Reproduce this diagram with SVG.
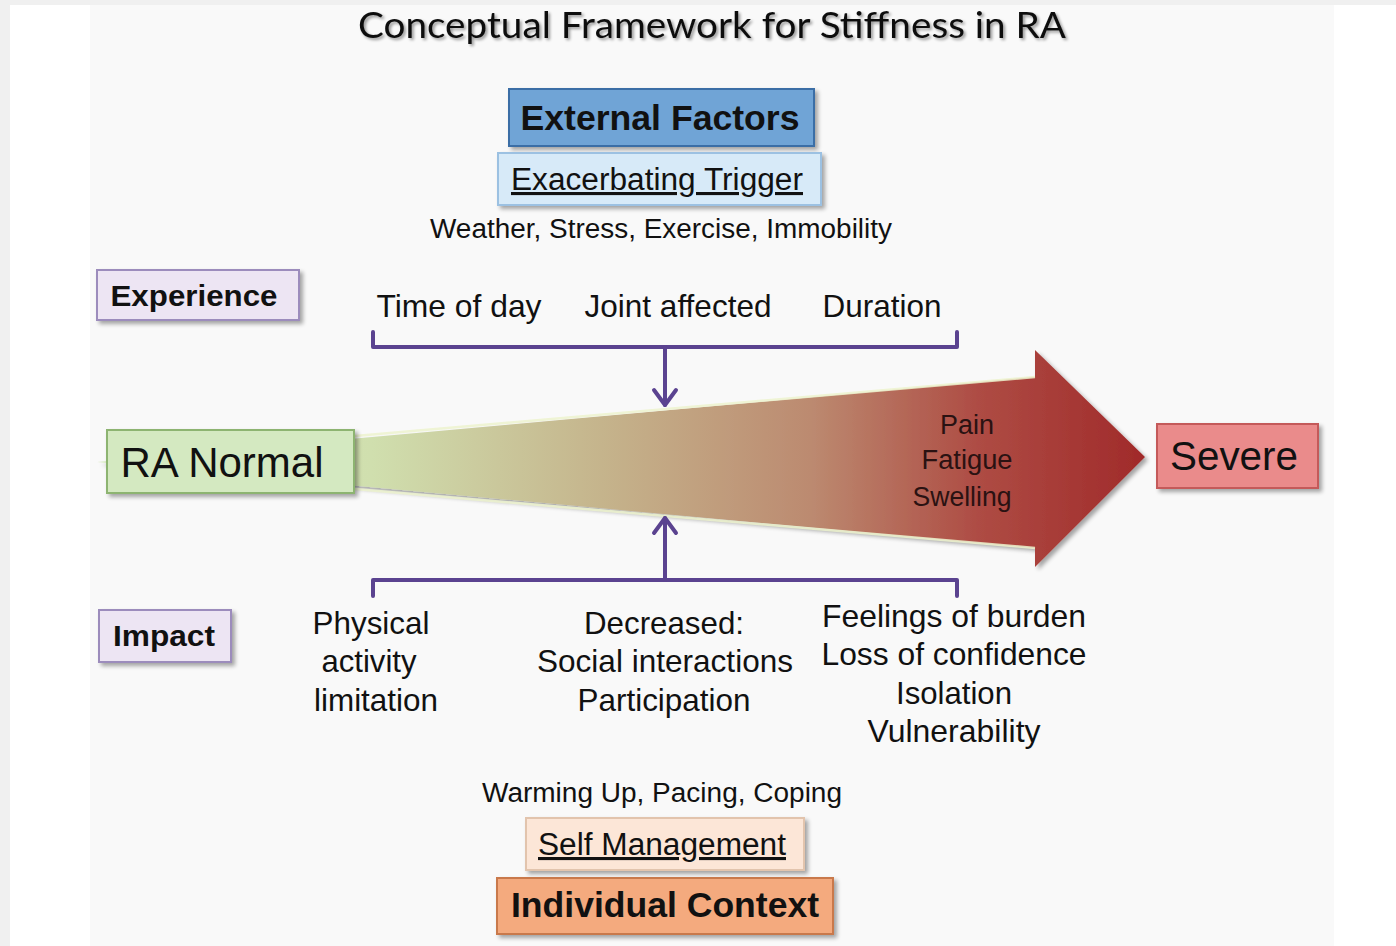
<svg xmlns="http://www.w3.org/2000/svg" width="1396" height="946" viewBox="0 0 1396 946">
  <defs>
    <linearGradient id="wedgeFill" gradientUnits="userSpaceOnUse" x1="100" y1="0" x2="1145" y2="0">
      <stop offset="0" stop-color="#d6e9bf"/>
      <stop offset="0.26" stop-color="#d0dfae"/>
      <stop offset="0.48" stop-color="#c5b48c"/>
      <stop offset="0.68" stop-color="#bc8a70"/>
      <stop offset="0.84" stop-color="#ae4c44"/>
      <stop offset="1" stop-color="#a02a2a"/>
    </linearGradient>
    <filter id="shadow" x="-10%" y="-20%" width="130%" height="160%">
      <feGaussianBlur in="SourceAlpha" stdDeviation="2"/>
      <feOffset dx="3" dy="3" result="b"/>
      <feComponentTransfer><feFuncA type="linear" slope="0.35"/></feComponentTransfer>
      <feMerge><feMergeNode/><feMergeNode in="SourceGraphic"/></feMerge>
    </filter>
    <filter id="textShadow" x="-5%" y="-30%" width="110%" height="170%">
      <feGaussianBlur in="SourceAlpha" stdDeviation="1.5"/>
      <feOffset dx="2" dy="2" result="b"/>
      <feComponentTransfer><feFuncA type="linear" slope="0.4"/></feComponentTransfer>
      <feMerge><feMergeNode/><feMergeNode in="SourceGraphic"/></feMerge>
    </filter>
  </defs>
  <style>
    text { font-family: "Liberation Sans", Arial, sans-serif; fill: #111; }
    .box { stroke-width: 2; filter: url(#shadow); }
    .label { font-size: 32px; }
    .small { font-size: 27px; }
    .sym { font-size: 27px; fill: #2a1212; }
    .bold { font-weight: bold; }
    .brace { fill: none; stroke: #5b4390; stroke-width: 4; stroke-linejoin: round; stroke-linecap: round; }
  </style>

  <!-- page background -->
  <rect x="0" y="0" width="1396" height="946" fill="#f0f0f0"/>
  <rect x="10" y="5" width="1386" height="941" fill="#ffffff"/>
  <rect x="90" y="5" width="1244" height="941" fill="#f9f9f9"/>

  <!-- title -->
  <text x="712" y="38" text-anchor="middle" font-size="36" textLength="708" lengthAdjust="spacingAndGlyphs" filter="url(#textShadow)" style="font-family: Lato, 'Open Sans', sans-serif;">Conceptual Framework for Stiffness in RA</text>

  <!-- progression wedge -->
  <g id="wedge">
    <polygon points="97,462 1035,377 1035,350 1145,457 1035,567 1035,548" fill="url(#wedgeFill)" filter="url(#shadow)"/>
    <line x1="355" y1="436" x2="1035" y2="377" stroke="#eef4cf" stroke-width="2.5" opacity="0.85"/>
    <line x1="355" y1="489" x2="1035" y2="548" stroke="#eef4cf" stroke-width="2.5" opacity="0.85"/>
    <text x="967" y="434" text-anchor="middle" class="sym" textLength="54" lengthAdjust="spacingAndGlyphs">Pain</text>
    <text x="967" y="469" text-anchor="middle" class="sym" textLength="91" lengthAdjust="spacingAndGlyphs">Fatigue</text>
    <text x="962" y="506" text-anchor="middle" class="sym" textLength="99" lengthAdjust="spacingAndGlyphs">Swelling</text>
  </g>

  <!-- external factors -->
  <g id="external-factors">
    <rect class="box" x="509" y="89" width="305" height="57" fill="#6fa4d6" stroke="#3b6ea6"/>
    <text x="660" y="130" text-anchor="middle" font-size="35" class="bold" textLength="279" lengthAdjust="spacingAndGlyphs">External Factors</text>
  </g>
  <g id="exacerbating-trigger">
    <rect class="box" x="498" y="153" width="323" height="52" fill="#d7eaf8" stroke="#9cc1e2"/>
    <text x="657" y="190" text-anchor="middle" font-size="31" text-decoration="underline" textLength="292" lengthAdjust="spacingAndGlyphs">Exacerbating Trigger</text>
  </g>
  <g id="trigger-examples">
    <text x="661" y="238" text-anchor="middle" class="small" textLength="462" lengthAdjust="spacingAndGlyphs">Weather, Stress, Exercise, Immobility</text>
  </g>

  <!-- experience -->
  <g id="experience">
    <rect class="box" x="97" y="270" width="202" height="50" fill="#ede5f3" stroke="#9c8cbc"/>
    <text x="194" y="306" text-anchor="middle" font-size="30" class="bold" textLength="167" lengthAdjust="spacingAndGlyphs">Experience</text>
  </g>
  <g id="experience-items">
    <text x="459" y="317" text-anchor="middle" class="label" textLength="165" lengthAdjust="spacingAndGlyphs">Time of day</text>
    <text x="678" y="317" text-anchor="middle" class="label" textLength="187" lengthAdjust="spacingAndGlyphs">Joint affected</text>
    <text x="882" y="317" text-anchor="middle" class="label" textLength="119" lengthAdjust="spacingAndGlyphs">Duration</text>
  </g>

  <!-- endpoints -->
  <g id="ra-normal">
    <rect class="box" x="107" y="430" width="247" height="63" fill="#d4e9c1" stroke="#8db471"/>
    <text x="222" y="477" text-anchor="middle" font-size="42" textLength="203" lengthAdjust="spacingAndGlyphs">RA Normal</text>
  </g>
  <g id="severe">
    <rect class="box" x="1157" y="424" width="161" height="64" fill="#ea8b8b" stroke="#c45a5a"/>
    <text x="1234" y="470" text-anchor="middle" font-size="41" textLength="128" lengthAdjust="spacingAndGlyphs">Severe</text>
  </g>

  <!-- impact -->
  <g id="impact">
    <rect class="box" x="99" y="610" width="132" height="52" fill="#ede5f3" stroke="#9c8cbc"/>
    <text x="164" y="646" text-anchor="middle" font-size="30" class="bold" textLength="102" lengthAdjust="spacingAndGlyphs">Impact</text>
  </g>
  <g id="impact-physical">
    <text x="371" y="634" text-anchor="middle" class="label" textLength="117" lengthAdjust="spacingAndGlyphs">Physical</text>
    <text x="369" y="672" text-anchor="middle" class="label" textLength="95" lengthAdjust="spacingAndGlyphs">activity</text>
    <text x="376" y="711" text-anchor="middle" class="label" textLength="124" lengthAdjust="spacingAndGlyphs">limitation</text>
  </g>
  <g id="impact-social">
    <text x="664" y="634" text-anchor="middle" class="label" textLength="160" lengthAdjust="spacingAndGlyphs">Decreased:</text>
    <text x="665" y="672" text-anchor="middle" class="label" textLength="256" lengthAdjust="spacingAndGlyphs">Social interactions</text>
    <text x="664" y="711" text-anchor="middle" class="label" textLength="173" lengthAdjust="spacingAndGlyphs">Participation</text>
  </g>
  <g id="impact-emotional">
    <text x="954" y="627" text-anchor="middle" class="label" textLength="264" lengthAdjust="spacingAndGlyphs">Feelings of burden</text>
    <text x="954" y="665" text-anchor="middle" class="label" textLength="265" lengthAdjust="spacingAndGlyphs">Loss of confidence</text>
    <text x="954" y="704" text-anchor="middle" class="label" textLength="116" lengthAdjust="spacingAndGlyphs">Isolation</text>
    <text x="954" y="742" text-anchor="middle" class="label" textLength="173" lengthAdjust="spacingAndGlyphs">Vulnerability</text>
  </g>

  <!-- self management -->
  <g id="self-management-examples">
    <text x="662" y="802" text-anchor="middle" class="small" textLength="360" lengthAdjust="spacingAndGlyphs">Warming Up, Pacing, Coping</text>
  </g>
  <g id="self-management">
    <rect class="box" x="526" y="818" width="278" height="52" fill="#fce6d7" stroke="#e2c4ad"/>
    <text x="662" y="855" text-anchor="middle" font-size="31" text-decoration="underline" textLength="248" lengthAdjust="spacingAndGlyphs">Self Management</text>
  </g>
  <g id="individual-context">
    <rect class="box" x="497" y="878" width="336" height="56" fill="#f4aa7e" stroke="#c9794c"/>
    <text x="665" y="917" text-anchor="middle" font-size="35" class="bold" textLength="308" lengthAdjust="spacingAndGlyphs">Individual Context</text>
  </g>

  <!-- connectors: brackets feeding into the wedge -->
  <g id="connectors">
    <path class="brace" d="M373,332 L373,347 L957,347 L957,332"/>
    <path class="brace" d="M665,347 L665,405"/>
    <path class="brace" d="M654,390 L665,405 L676,390"/>
    <path class="brace" d="M373,596 L373,580 L957,580 L957,596"/>
    <path class="brace" d="M665,580 L665,518"/>
    <path class="brace" d="M654,533 L665,518 L676,533"/>
  </g>
</svg>
